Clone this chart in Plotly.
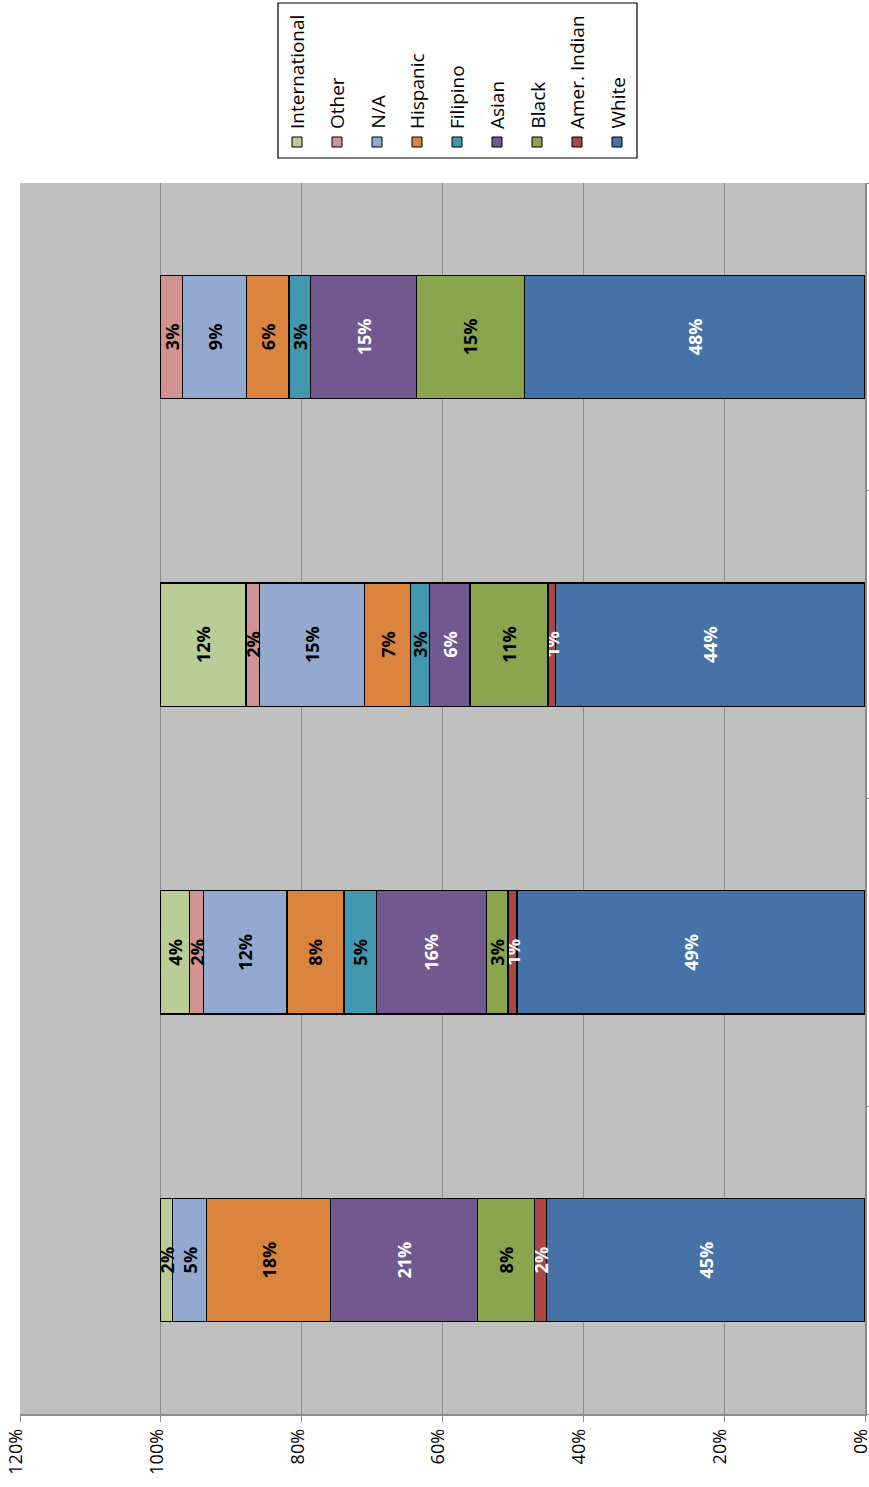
import plotly.graph_objects as go

categories = ["Group 1", "Group 2", "Group 3", "Group 4"]

series_names = ["White", "Amer. Indian", "Black", "Asian", "Filipino",
                "Hispanic", "N/A", "Other", "International"]

white = [0.452, 0.494, 0.440, 0.484]
amer_indian = [0.017, 0.013, 0.010, None]
black = [0.081, 0.031, 0.111, 0.153]
asian = [0.209, 0.156, 0.057, 0.150]
filipino = [None, 0.046, 0.027, 0.031]
hispanic = [0.176, 0.081, 0.066, 0.060]
na = [0.048, 0.118, 0.149, 0.091]
other = [None, 0.020, 0.019, 0.031]
international = [0.017, 0.041, 0.121, None]

series_values = [white, amer_indian, black, asian, filipino,
                 hispanic, na, other, international]

colors = ["#4572A7", "#AA4643", "#89A54E", "#71588F", "#4198AF",
          "#DB843D", "#93A9CF", "#D19392", "#B9CD96"]
text_colors = ["white", "white", "black", "white", "black",
               "black", "black", "black", "black"]

x_ticks = [0, 0.2, 0.4, 0.6, 0.8, 1.0, 1.2]

W, H = 869, 1487
ML, MR, MT, MB = 20, 4, 183, 73
PW = W - ML - MR
PH = H - MT - MB


def px_x(px):
    return (px - ML) / PW


def px_y(py):
    return (H - MB - py) / PH


fig = go.Figure()
for name, vals, col, tcol in zip(series_names, series_values, colors, text_colors):
    texts = ["" if v is None else "%d%%" % int(v * 100 + 0.5) for v in vals]
    fig.add_trace(go.Bar(
        y=categories, x=vals, name=name, orientation="h",
        marker=dict(color=col, line=dict(color="black", width=1.3)),
        text=texts, textposition="inside", insidetextanchor="middle",
        textangle=-90, constraintext="none",
        textfont=dict(family="Open Sans", size=18, color=tcol, weight="bold"),
        hoverinfo="skip",
    ))

fig.update_layout(
    barmode="stack", bargap=0.6,
    width=W, height=H,
    margin=dict(l=ML, r=MR, t=MT, b=MB, autoexpand=False),
    paper_bgcolor="white", plot_bgcolor="#C0C0C0",
    showlegend=False,
    font=dict(family="Open Sans", size=18, color="black"),
)
fig.update_xaxes(
    range=[1.2, 0], tickvals=x_ticks, tickformat=".0%", tickangle=-90,
    showgrid=True, gridcolor="#8C8C8C", gridwidth=1,
    showline=True, linecolor="#8C8C8C", linewidth=1.5,
    ticks="outside", ticklen=6, tickcolor="#8C8C8C",
    zeroline=False, tickfont=dict(size=18, family="Open Sans"),
    ticklabeloverflow="allow", automargin=False, ticklabelshift=4,
)
fig.update_yaxes(
    type="category", categoryarray=categories, side="right",
    showticklabels=False, showgrid=False,
    showline=True, linecolor="#8C8C8C", linewidth=1.5,
    ticks="outside", tickson="boundaries", ticklen=6, tickcolor="#8C8C8C",
    zeroline=False, automargin=False,
)

# custom rotated legend
shapes = [dict(type="rect", xref="paper", yref="paper",
               x0=px_x(278), x1=px_x(637), y0=px_y(158), y1=px_y(3),
               line=dict(color="black", width=1.2), fillcolor="white", layer="above")]
annotations = []
legend_order = ["International", "Other", "N/A", "Hispanic", "Filipino",
                "Asian", "Black", "Amer. Indian", "White"]
for i, lname in enumerate(legend_order):
    cx = 297 + 40 * i
    col = colors[series_names.index(lname)]
    shapes.append(dict(type="rect", xref="paper", yref="paper",
                       x0=px_x(cx - 5), x1=px_x(cx + 5),
                       y0=px_y(147), y1=px_y(137),
                       line=dict(color="black", width=1), fillcolor=col, layer="above"))
    annotations.append(dict(xref="paper", yref="paper", x=px_x(cx), y=px_y(131),
                            xanchor="center", yanchor="bottom", text=lname,
                            textangle=-90, showarrow=False,
                            font=dict(size=19, family="Open Sans", color="black")))

fig.update_layout(shapes=shapes, annotations=annotations)

fig.write_html(
    "out.html",
    config={"displayModeBar": False},
    post_script="document.body.style.margin='0';document.body.style.overflow='hidden';",
)
